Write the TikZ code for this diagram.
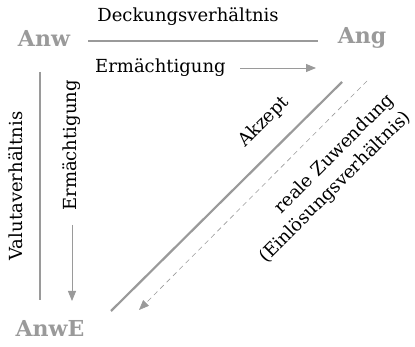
\documentclass[tikz,border=0pt]{standalone}
\usepackage{fontspec}
\setmainfont{DejaVu Serif}
\usetikzlibrary{arrows.meta}
\definecolor{relgray}{HTML}{9A9A9A}

\begin{document}
\begin{tikzpicture}[x=1pt,y=-1pt]
\tikzstyle{every node}+=[inner sep=0pt]
\tikzstyle{party}=[font=\bfseries\fontsize{22}{26}\selectfont, text=relgray]
\tikzstyle{lbl}=[font=\fontsize{18}{24}\selectfont]
\tikzstyle{rel}=[draw=relgray, line width=2.2pt]
\tikzstyle{act}=[draw=relgray, line width=0.9pt, -{Triangle[length=10pt,width=8pt]}]
\useasboundingbox (0,0) rectangle (415,347);
% Parteien
\node[party] (anw) at (44,38) {Anw};
\node[party] (ang) at (362,38) {Ang};
\node[party] (anwe) at (50,328) {AnwE};
% Deckungsverhaeltnis
\coordinate (deckA) at (88,41);
\coordinate (deckB) at (318,41);
\draw[rel] (deckA) -- (deckB);
\node[lbl] (deck) at (188,17) {Deckungsverhältnis};
\node[lbl, anchor=west] (ermh) at (95,68) {Ermächtigung};
\coordinate (ermhA) at (240,68);
\coordinate (ermhB) at (316,68);
\draw[act] (ermhA) -- (ermhB);
% Valutaverhaeltnis
\coordinate (valA) at (40,72);
\coordinate (valB) at (40,300);
\draw[rel] (valA) -- (valB);
\node[lbl, rotate=90] (val) at (16,186) {Valutaverhältnis};
\node[lbl, rotate=90, anchor=east] (ermv) at (72,80) {Ermächtigung};
\coordinate (ermvA) at (72,225);
\coordinate (ermvB) at (72,301);
\draw[act] (ermvA) -- (ermvB);
% Einloesungsverhaeltnis
\coordinate (akA) at (342,82);
\coordinate (akB) at (111,311);
\draw[rel] (akA) -- (akB);
\node[lbl, rotate=45] (akz) at (264,122) {Akzept};
\coordinate (zuwA) at (367,81);
\coordinate (zuwB) at (139,310);
\draw[act, line width=0.6pt, dash pattern=on 5pt off 4pt] (zuwA) -- (zuwB);
\node[lbl, rotate=45, align=right] (zuw) at (327,179) {reale Zuwendung\\(Einlösungsverhältnis)};
\end{tikzpicture}
\end{document}
